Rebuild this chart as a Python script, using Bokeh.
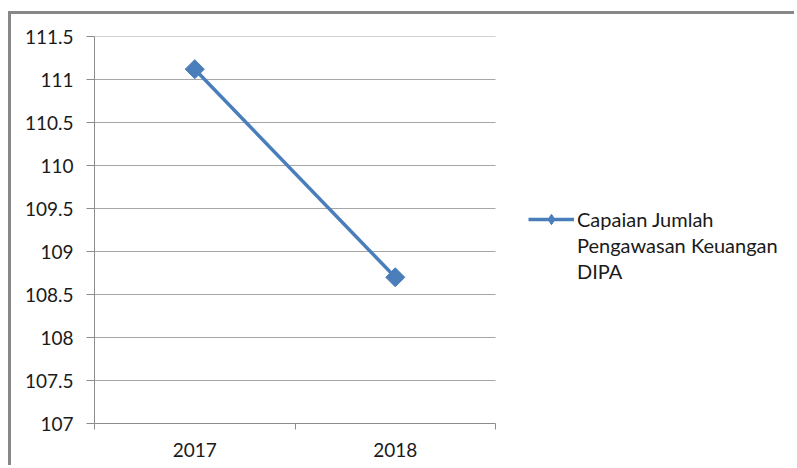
import math
from bokeh.plotting import figure
from bokeh.models import Range1d, FixedTicker, Legend, LegendItem
from bokeh.embed import file_html
from bokeh.resources import INLINE

# data
years = ["2017", "2018"]
capaian = [111.12, 108.70]
series_lines = ["Capaian Jumlah", "Pengawasan Keuangan", "DIPA"]
y_ticks = [107, 107.5, 108, 108.5, 109, 109.5, 110, 110.5, 111, 111.5]
y_tick_labels = ["107", "107.5", "108", "108.5", "109", "109.5", "110", "110.5", "111", "111.5"]

BLUE = "#4a7ebb"
GRID = "#a6a6a6"
AXIS = "#8c8c8c"
BORDER = "#878787"
TEXT = "#1a1a1a"
FONT = "Lato"
FONT_SIZE = "19px"

n = len(years)
x_pos = [i + 0.5 for i in range(n)]

# the frame runs to the right edge; the category area covers x = 0..n,
# the rest of the frame holds the legend
X_END = n * 1.753

p = figure(width=786, height=454, output_backend="svg", toolbar_location=None,
           x_range=Range1d(0, X_END), y_range=Range1d(y_ticks[0], y_ticks[-1]),
           min_border_left=83, min_border_right=0, min_border_top=22, min_border_bottom=45,
           margin=(11, 0, 0, 8),
           styles={"border-top": f"3px solid {BORDER}", "border-left": f"3px solid {BORDER}"})
p.outline_line_color = None
p.background_fill_color = "white"
p.border_fill_color = "white"

# y axis
p.yaxis.ticker = FixedTicker(ticks=y_ticks)
p.yaxis.major_label_overrides = dict(zip(y_ticks, y_tick_labels))
p.yaxis.axis_line_color = AXIS
p.yaxis.major_tick_line_color = AXIS
p.yaxis.major_tick_out = 8
p.yaxis.major_tick_in = 0
p.yaxis.minor_tick_line_color = None
p.yaxis.major_label_standoff = 13
p.yaxis.major_label_text_font = FONT
p.yaxis.major_label_text_font_size = FONT_SIZE
p.yaxis.major_label_text_color = TEXT

# x axis: labels at category centres, ticks at category boundaries
p.xaxis.bounds = (0, n)
p.xaxis.ticker = FixedTicker(ticks=x_pos, minor_ticks=list(range(n + 1)))
p.xaxis.major_label_overrides = dict(zip(x_pos, years))
p.xaxis.axis_line_color = AXIS
p.xaxis.major_tick_line_color = None
p.xaxis.major_tick_out = 0
p.xaxis.major_tick_in = 0
p.xaxis.minor_tick_line_color = AXIS
p.xaxis.minor_tick_out = 6
p.xaxis.minor_tick_in = 0
p.xaxis.major_label_standoff = 13
p.xaxis.major_label_text_font = FONT
p.xaxis.major_label_text_font_size = FONT_SIZE
p.xaxis.major_label_text_color = TEXT

# horizontal gridlines across the category area only
p.xgrid.grid_line_color = None
p.ygrid.grid_line_color = None
p.segment(x0=0, x1=n, y0=y_ticks[1:], y1=y_ticks[1:], line_color=GRID, line_width=1)

line_r = p.line(x_pos, capaian, line_width=3.5, color=BLUE)
# small diamond under each marker, used only as the legend swatch
key_mark = p.scatter(x_pos, capaian, marker="diamond", size=1, color=BLUE)
mark_r = p.scatter(x_pos, capaian, marker="square", angle=math.pi / 4, size=13.5, color=BLUE)

# blank rows let the series name wrap
blank_r = p.line([], [], line_alpha=0)

items = [LegendItem(label=series_lines[0], renderers=[line_r, key_mark])]
items += [LegendItem(label=t, renderers=[blank_r]) for t in series_lines[1:]]

legend = Legend(items=items, location=(434, 139), margin=0, padding=0,
                border_line_color=None, background_fill_alpha=0,
                glyph_width=46, glyph_height=26, label_height=26, spacing=0,
                label_standoff=3, label_text_font=FONT, label_text_font_size="20px",
                label_text_color=TEXT, click_policy="none")
p.add_layout(legend, "center")

open("out.html", "w").write(file_html(p, INLINE))
